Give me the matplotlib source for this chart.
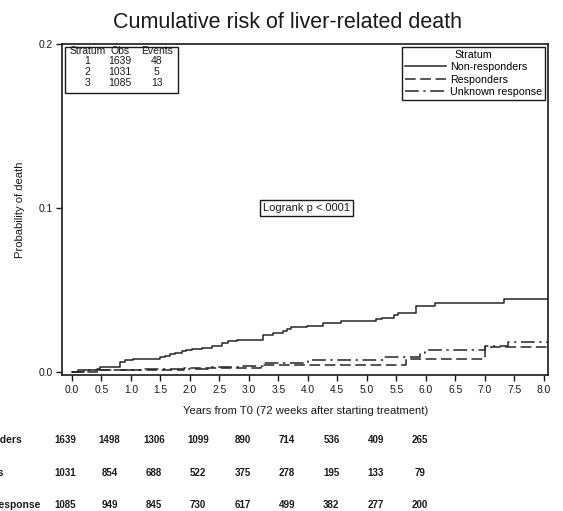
import matplotlib
matplotlib.use("Agg")
import matplotlib.pyplot as plt
from matplotlib.patches import Rectangle

plt.rcParams["font.family"] = ["Liberation Sans", "DejaVu Sans"]

# cumulative incidence step curves (years, probability)
nonresp_t = [0, 0.10, 0.42, 0.47, 0.82, 0.90, 1.03, 1.49, 1.58, 1.66, 1.75, 1.86, 1.94,
             2.03, 2.20, 2.37, 2.54, 2.65, 2.80, 3.24, 3.41, 3.58, 3.64, 3.72, 3.98,
             4.26, 4.57, 5.16, 5.25, 5.47, 5.53, 5.83, 6.15, 7.33]
nonresp_p = [0, 0.0008, 0.0016, 0.0030, 0.0057, 0.0073, 0.0081, 0.0090, 0.0098, 0.0106,
             0.0114, 0.0124, 0.0134, 0.0140, 0.0148, 0.0158, 0.0175, 0.0187, 0.0195,
             0.0226, 0.0236, 0.0248, 0.0264, 0.0272, 0.0282, 0.0297, 0.0309, 0.0321,
             0.0328, 0.0349, 0.0358, 0.0402, 0.0419, 0.0447]
resp_t = [0, 0.50, 1.90, 3.20, 5.67, 7.00]
resp_p = [0, 0.0010, 0.0024, 0.0040, 0.0080, 0.0152]
unk_t = [0, 0.20, 1.20, 2.30, 2.90, 3.24, 4.00, 5.30, 5.90, 5.98, 7.00, 7.39]
unk_p = [0, 0.0009, 0.0018, 0.0028, 0.0038, 0.0055, 0.0073, 0.0090, 0.0113, 0.0136,
         0.0160, 0.0183]
followup_end = 8.07

strata = ["Non-responders", "Responders", "Unknown response"]
stat_header = ["Stratum", "Obs", "Events"]
stat_rows = [["1", "1639", "48"], ["2", "1031", "5"], ["3", "1085", "13"]]

at_risk = [[1639, 1498, 1306, 1099, 890, 714, 536, 409, 265],
           [1031, 854, 688, 522, 375, 278, 195, 133, 79],
           [1085, 949, 845, 730, 617, 499, 382, 277, 200]]

ink = "#1a1a1a"
fig = plt.figure(figsize=(5.63, 5.11), dpi=100)
ax = fig.add_axes([0.111, 0.266, 0.862, 0.648])

styles = ["-", (0, (7, 3)), (0, (9, 3, 1.5, 3))]
for t, p, ls, lab in zip([nonresp_t, resp_t, unk_t], [nonresp_p, resp_p, unk_p], styles, strata):
    ax.step(t + [followup_end], p + [p[-1]], where="post", color="#262626", lw=1.1, ls=ls, label=lab)

ax.set_xlim(-0.16, 8.07)
ax.set_ylim(-0.002, 0.2)
ax.set_xticks([i * 0.5 for i in range(17)])
ax.set_xticklabels(["%.1f" % (i * 0.5) for i in range(17)])
ax.set_yticks([0.0, 0.1, 0.2])
ax.set_yticklabels(["0.0", "0.1", "0.2"])
ax.tick_params(labelsize=7.4, length=4, width=1, colors=ink, pad=3)
for s in ax.spines.values():
    s.set_linewidth(1.2)
    s.set_color(ink)
ax.set_xlabel("Years from T0 (72 weeks after starting treatment)", fontsize=8.1, color=ink, labelpad=8)
ax.set_ylabel("Probability of death", fontsize=8.1, color=ink, labelpad=10)
fig.suptitle("Cumulative risk of liver-related death", x=0.51, y=0.977, fontsize=15.5, color=ink)

leg = ax.legend(title="Stratum", loc="upper right", fontsize=7.7, title_fontsize=7.7,
                fancybox=False, edgecolor=ink, handlelength=3.8, handletextpad=0.4,
                borderpad=0.25, labelspacing=0.22, borderaxespad=0.3, framealpha=1)
leg.get_frame().set_linewidth(1)

# stats box top-left
ax.add_patch(Rectangle((0.006, 0.852), 0.232, 0.14, transform=ax.transAxes,
                       fill=False, ec=ink, lw=1))
col_x = [0.051, 0.119, 0.194]
row_y = [0.979, 0.947, 0.915, 0.883]
for cx, h in zip(col_x, stat_header):
    ax.text(cx, row_y[0], h, transform=ax.transAxes, ha="center", va="center", fontsize=7.5, color=ink)
for ry, row in zip(row_y[1:], stat_rows):
    for cx, v in zip(col_x, row):
        ax.text(cx, ry, v, transform=ax.transAxes, ha="center", va="center", fontsize=7.5, color=ink)

ax.text(3.98, 0.1, "Logrank p <.0001", ha="center", va="center", fontsize=8, color=ink,
        bbox=dict(boxstyle="square,pad=0.25", fc="white", ec=ink, lw=1))

# numbers at risk
rax = fig.add_axes([0, 0, 1, 0.16])
rax.set_xlim(-65 / 44.4, (563 - 65) / 44.4)
rax.set_ylim(0, 82)
rax.axis("off")
row_py = [71, 38, 6]
label_end = [22, 4, 40]
for r, (counts, name) in enumerate(zip(at_risk, strata)):
    rax.text(label_end[r] / 563, row_py[r], name, transform=rax.get_yaxis_transform(),
             ha="right", va="center", fontsize=7.4, fontweight="bold", color=ink)
    for i, n in enumerate(counts):
        rax.text(i, row_py[r], str(n), ha="center", va="center", fontsize=7.0,
                 fontweight="bold", color=ink)

fig.savefig("out.png", dpi=100)
